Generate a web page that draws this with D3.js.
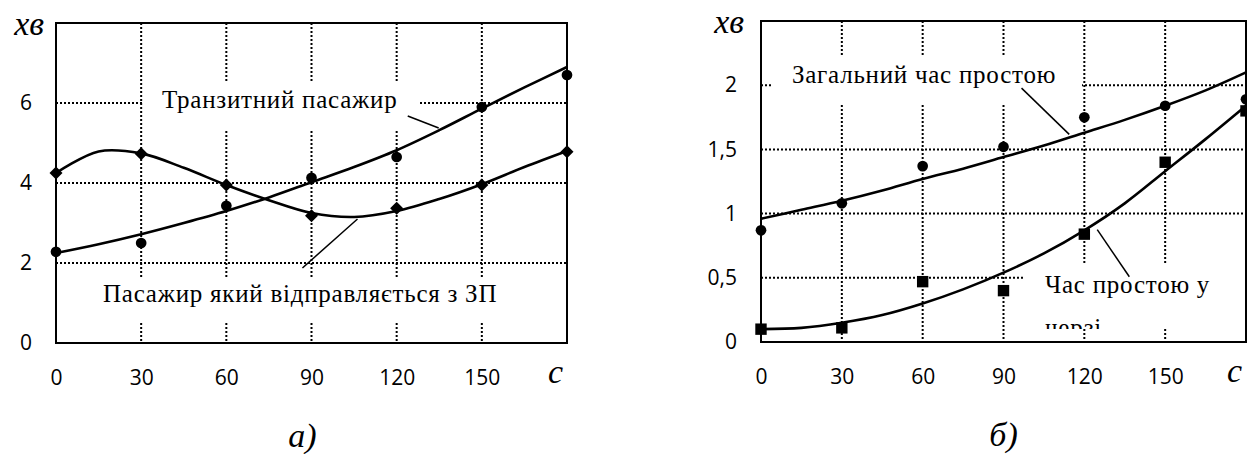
<!DOCTYPE html>
<html>
<head>
<meta charset="utf-8">
<script src="https://cdn.jsdelivr.net/npm/d3@7"></script>
<style>
body { margin: 0; background: #fff; }
svg { display: block; }
.tick text { font-family: "Open Sans", sans-serif; font-size: 21px; fill: #000; }
.lbl { font-family: "Liberation Serif", serif; font-size: 25px; letter-spacing: 0.75px; fill: #000; }
.ital { font-family: "Liberation Serif", serif; font-style: italic; fill: #000; }
</style>
</head>
<body>
<script>
var xMarks = [0, 30, 60, 90, 120, 150, 180];
var xTrend = [0, 15, 30, 45, 60, 75, 90, 105, 120, 135, 150, 165, 180];
var xTickVals = [0, 30, 60, 90, 120, 150];
var xTickLabels = ["0", "30", "60", "90", "120", "150"];

// panel a)
var transitPts = [2.28, 2.5, 3.43, 4.13, 4.65, 5.9, 6.7];
var transitTrend = [2.25, 2.47, 2.72, 3.0, 3.3, 3.64, 4.02, 4.4, 4.82, 5.32, 5.86, 6.39, 6.9];
var departPts = [4.25, 4.73, 3.95, 3.18, 3.37, 3.95, 4.78];
var departTrend = [4.25, 4.79, 4.74, 4.38, 3.95, 3.57, 3.25, 3.15, 3.3, 3.6, 3.97, 4.4, 4.8];
var yTicksA = [0, 2, 4, 6];
var yLabelsA = ["0", "2", "4", "6"];

// panel б)
var totalPts = [0.87, 1.08, 1.37, 1.52, 1.75, 1.84, 1.89];
var totalTrend = [0.96, 1.03, 1.1, 1.18, 1.27, 1.35, 1.44, 1.53, 1.63, 1.73, 1.84, 1.96, 2.1];
var queuePts = [0.1, 0.11, 0.47, 0.4, 0.84, 1.4, 1.8];
var queueTrend = [0.1, 0.11, 0.15, 0.21, 0.3, 0.41, 0.54, 0.69, 0.87, 1.08, 1.33, 1.58, 1.84];
var yTicksB = [0, 0.5, 1, 1.5, 2];
var yLabelsB = ["0", "0,5", "1", "1,5", "2"];

var svg = d3.select("body").append("svg")
	.attr("width", 1247)
	.attr("height", 454);

function panel(p) {
	var g = svg.append("g").attr("transform", "translate(" + p.left + "," + p.top + ")");
	var x = d3.scaleLinear().domain([0, 180]).range([0, p.width]);
	var y = d3.scaleLinear().domain([0, p.ymax]).range([p.height, 0]);

	g.append("rect").attr("width", p.width).attr("height", p.height).attr("fill", "#fff");

	// grid
	g.selectAll(".vg").data([30, 60, 90, 120, 150]).enter().append("line")
		.attr("x1", function(d) { return x(d); }).attr("x2", function(d) { return x(d); })
		.attr("y1", 0).attr("y2", p.height)
		.attr("stroke", "#000").attr("stroke-width", 2).attr("stroke-dasharray", "2,2");
	g.selectAll(".hg").data(p.grid).enter().append("line")
		.attr("x1", 0).attr("x2", p.width)
		.attr("y1", function(d) { return y(d); }).attr("y2", function(d) { return y(d); })
		.attr("stroke", "#000").attr("stroke-width", 2).attr("stroke-dasharray", "2,2");

	// label boxes (white, hide the grid)
	p.labels.forEach(function(l, i) {
		var cid = "clip" + p.id + i;
		svg.append("defs").append("clipPath").attr("id", cid)
			.append("rect").attr("x", l.box[0]).attr("y", l.box[1])
			.attr("width", l.box[2] - l.box[0]).attr("height", l.box[3] - l.box[1]);
		g.append("rect").attr("x", l.box[0]).attr("y", l.box[1])
			.attr("width", l.box[2] - l.box[0]).attr("height", l.box[3] - l.box[1])
			.attr("fill", "#fff");
		var t = g.append("text").attr("class", "lbl").attr("clip-path", "url(#" + cid + ")")
			.attr("x", l.tx).attr("y", l.ty);
		l.lines.forEach(function(s, k) {
			t.append("tspan").attr("x", l.tx).attr("dy", k ? 43 : 0).text(s);
		});
	});

	var line = d3.line()
		.x(function(d, i) { return x(xTrend[i]); })
		.y(function(d) { return y(d); })
		.curve(d3.curveCatmullRom);

	p.series.forEach(function(s) {
		g.append("path").datum(s.trend).attr("d", line)
			.attr("fill", "none").attr("stroke", "#000").attr("stroke-width", 2.6);
		var sym = d3.symbol().type(s.symbol).size(s.size);
		g.selectAll(null).data(s.pts).enter().append("path")
			.attr("d", sym)
			.attr("transform", function(d, i) {
				return "translate(" + x(xMarks[i]) + "," + y(d) + ")" + (s.rotate ? " rotate(45)" : "");
			})
			.attr("fill", "#000");
	});

	// leader lines, given in data units
	p.leaders.forEach(function(l) {
		g.append("line")
			.attr("x1", x(l[0])).attr("y1", y(l[1]))
			.attr("x2", x(l[2])).attr("y2", y(l[3]))
			.attr("stroke", "#000").attr("stroke-width", 1.5);
	});

	g.append("rect").attr("width", p.width).attr("height", p.height)
		.attr("fill", "none").attr("stroke", "#000").attr("stroke-width", 2);

	// axes
	var ax = g.append("g").attr("transform", "translate(0," + p.height + ")")
		.call(d3.axisBottom(x).tickValues(xTickVals).tickSize(0).tickPadding(27)
			.tickFormat(function(d, i) { return xTickLabels[i]; }));
	ax.select(".domain").remove();
	var ay = g.append("g")
		.call(d3.axisLeft(y).tickValues(p.yTicks).tickSize(0).tickPadding(24)
			.tickFormat(function(d, i) { return p.yLabels[i]; }));
	ay.select(".domain").remove();
	ax.attr("font-family", null).attr("font-size", null);
	ay.attr("font-family", null).attr("font-size", null);

	g.append("text").attr("class", "ital").attr("font-size", 34)
		.attr("x", p.xvX).attr("y", 12).attr("text-anchor", "end").text("хв");
	g.append("text").attr("class", "ital").attr("font-size", 34)
		.attr("x", x(180) - 4).attr("y", p.height + 40).attr("text-anchor", "end").text("с");
	g.append("text").attr("class", "ital").attr("font-size", 34)
		.attr("x", p.width / 2 + p.capDx).attr("y", p.height + 104).attr("text-anchor", "middle").text(p.caption);
}

panel({
	id: "a", left: 56, top: 23, width: 511, height: 320, ymax: 8,
	grid: [2, 4, 6], yTicks: yTicksA, yLabels: yLabelsA, xvX: -12, caption: "а)", capDx: -9,
	series: [
		{ pts: transitPts, trend: transitTrend, symbol: d3.symbolCircle, size: 90 },
		{ pts: departPts, trend: departTrend, symbol: d3.symbolSquare, size: 85, rotate: true }
	],
	labels: [
		{ box: [88, 59, 363, 107], tx: 106, ty: 85, lines: ["Транзитний пасажир"] },
		{ box: [40, 254, 450, 300], tx: 47, ty: 279, lines: ["Пасажир який відправляється з ЗП"] }
	],
	leaders: [[123.9, 5.675, 134.8, 5.375], [86.8, 1.875, 106.2, 3.1]]
});

panel({
	id: "b", left: 761, top: 21, width: 485, height: 321, ymax: 2.5,
	grid: [0.5, 1, 1.5, 2], yTicks: yTicksB, yLabels: yLabelsB, xvX: -17, caption: "б)", capDx: 0,
	series: [
		{ pts: totalPts, trend: totalTrend, symbol: d3.symbolCircle, size: 90 },
		{ pts: queuePts, trend: queueTrend, symbol: d3.symbolSquare, size: 130 }
	],
	labels: [
		{ box: [10, 34, 321, 82], tx: 31, ty: 62, lines: ["Загальний час простою"] },
		{ box: [264, 244, 482, 308], tx: 284, ty: 272, lines: ["Час простою у", "черзі"] }
	],
	leaders: [[96.7, 1.977, 114.4, 1.617], [124.8, 0.875, 136.7, 0.508]]
});
</script>
</body>
</html>
